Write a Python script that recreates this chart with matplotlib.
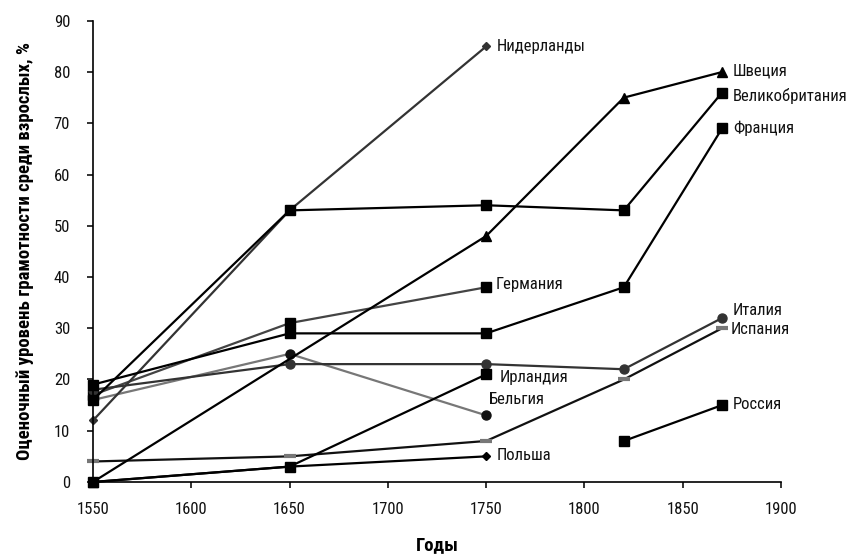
import matplotlib
matplotlib.use("Agg")
import matplotlib.pyplot as plt
from matplotlib.font_manager import fontManager

names = {f.name for f in fontManager.ttflist}
prefs = ["Roboto Condensed", "Liberation Sans Narrow", "Arial Narrow", "PT Sans Narrow",
         "IBM Plex Sans Condensed", "Open Sans Condensed", "Liberation Sans"]
FONT = next(p for p in prefs if p in names)
plt.rcParams['font.family'] = [FONT, 'DejaVu Sans']

# ---- data ----
netherlands_x = [1550, 1650, 1750]
netherlands_y = [12, 53, 85]
sweden_x = [1550, 1750, 1820, 1870]
sweden_y = [0, 48, 75, 80]
britain_x = [1550, 1650, 1750, 1820, 1870]
britain_y = [16, 53, 54, 53, 76]
france_x = [1550, 1650, 1750, 1820, 1870]
france_y = [19, 29, 29, 38, 69]
germany_x = [1550, 1650, 1750]
germany_y = [17, 31, 38]
italy_x = [1550, 1650, 1750, 1820, 1870]
italy_y = [18, 23, 23, 22, 32]
spain_x = [1550, 1650, 1750, 1820, 1870]
spain_y = [4, 5, 8, 20, 30]
russia_x = [1820, 1870]
russia_y = [8, 15]
ireland_x = [1550, 1650, 1750]
ireland_y = [0, 3, 21]
belgium_x = [1550, 1650, 1750]
belgium_y = [16, 25, 13]
poland_x = [1550, 1650, 1750]
poland_y = [0, 3, 5]

x_ticks = [1550, 1600, 1650, 1700, 1750, 1800, 1850, 1900]
y_ticks = [0, 10, 20, 30, 40, 50, 60, 70, 80, 90]

fig = plt.figure(figsize=(8.49, 5.54), dpi=100)
ax = fig.add_axes([0.1095, 0.130, 0.8105, 0.8325])

def series(x, y, lc, marker, mc, ms, **kw):
    ax.plot(x, y, color=lc, lw=1.6, marker=marker, markersize=ms,
            markerfacecolor=mc, markeredgecolor=mc, clip_on=False, **kw)

series(belgium_x, belgium_y, '#777777', 'o', '#111111', 6.5)
series(germany_x, germany_y, '#444444', 's', '#000000', 7)
series(italy_x, italy_y, '#333333', 'o', '#333333', 6.5)
series(spain_x, spain_y, '#111111', '_', '#777777', 9, markeredgewidth=3)
series(netherlands_x, netherlands_y, '#333333', 'D', '#333333', 4.5)
series(france_x, france_y, '#000000', 's', '#000000', 7)
series(britain_x, britain_y, '#000000', 's', '#000000', 7)
series(sweden_x, sweden_y, '#000000', '^', '#000000', 6.5)
series(ireland_x, ireland_y, '#000000', 's', '#000000', 7)
series(poland_x, poland_y, '#000000', 'D', '#000000', 4.5)
series(russia_x, russia_y, '#000000', 's', '#000000', 7)

labels = [
    ("Нидерланды", 1755.5, 85),
    ("Швеция", 1875.5, 80.2),
    ("Великобритания", 1875.5, 75.3),
    ("Франция", 1875.5, 69),
    ("Германия", 1755, 38.6),
    ("Италия", 1875.5, 33.4),
    ("Испания", 1874.5, 29.8),
    ("Россия", 1875.5, 15.2),
    ("Ирландия", 1757, 20.3),
    ("Бельгия", 1751.5, 16),
    ("Польша", 1755.5, 5.1),
]
for t, x, y in labels:
    ax.text(x, y, t, fontsize=12, ha='left', va='center', color='#111111')

ax.set_xlim(1550, 1900)
ax.set_ylim(0, 90)
ax.set_xticks(x_ticks)
ax.set_yticks(y_ticks)
ax.tick_params(direction='out', length=4.5, width=1.2, labelsize=12, colors='#111111')
ax.tick_params(axis='x', pad=10)
ax.tick_params(axis='y', pad=12)
for s in ['top', 'right']:
    ax.spines[s].set_visible(False)
for s in ['left', 'bottom']:
    ax.spines[s].set_linewidth(1.2)
ax.set_xlabel("Годы", fontsize=13.5, fontweight='bold', labelpad=14)
ax.set_ylabel("Оценочный уровень грамотности среди взрослых, %", fontsize=13.5,
              fontweight='bold', labelpad=14)

fig.savefig("out.png", dpi=100)
